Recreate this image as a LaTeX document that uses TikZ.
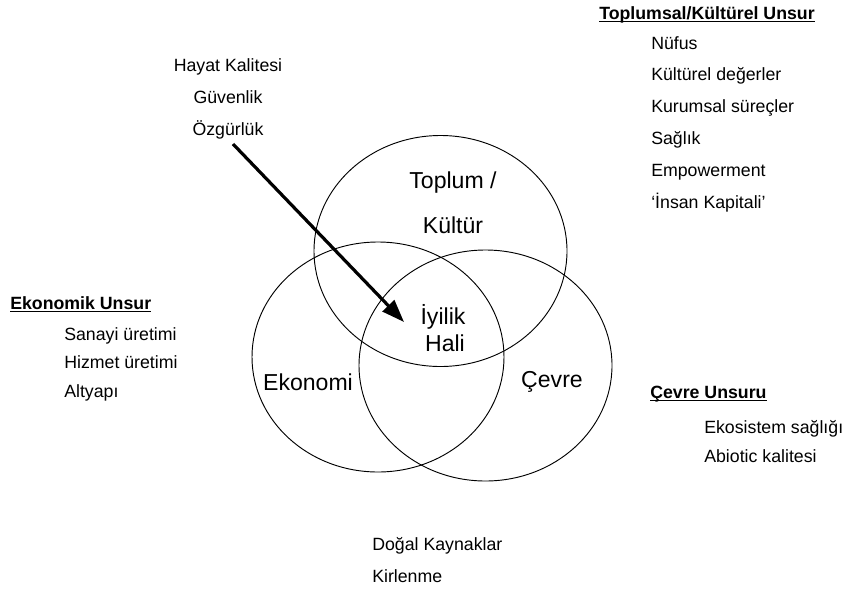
\documentclass[tikz,border=0pt]{standalone}
\usepackage{fontspec}
\setmainfont{Liberation Sans}
\usetikzlibrary{arrows.meta}
\tikzstyle{arrow} = [line width=2.4pt,-{Triangle[length=17pt,width=12pt]}]
\tikzstyle{ring} = [line width=0.7pt]
\tikzstyle{item} = [anchor=base west,inner sep=0pt,font=\fontsize{13.3}{16}\selectfont]
\tikzstyle{head} = [item,font=\fontsize{13.3}{16}\selectfont\bfseries]
\tikzstyle{big} = [inner sep=0pt,font=\fontsize{17.3}{20}\selectfont]

\begin{document}
\begin{tikzpicture}[x=0.75pt,y=-0.75pt]
\useasboundingbox (0,0) rectangle (845,589);

\draw[ring] (440.5,251) ellipse [x radius=126.5,y radius=115.5];
\draw[ring] (378,357) ellipse [x radius=126,y radius=115];
\draw[ring] (485.5,365.5) ellipse [x radius=126.5,y radius=115.5];

\node[big] (top1) at (453,183) {Toplum /};
\node[big] (top2) at (453,225) {Kültür};
\node[big] (eko) at (308,382) {Ekonomi};
\node[big] (cev) at (552,382) {Çevre};
\node[big] (iyi1) at (443,317) {İyilik};
\node[big] (iyi2) at (445,343) {Hali};

\foreach \t [count=\i] in {Hayat Kalitesi,Güvenlik,Özgürlük}{
	\node[item,anchor=base] (hk\i) at (228,71+32*\i-32) {\t};
}
\coordinate (from) at (233,144);
\coordinate (to) at (404,322);
\draw[arrow] (from) -- (to);

\node[head] (hsoc) at (599,19) {Toplumsal/Kültürel Unsur};
\foreach \t [count=\i] in {Nüfus,Kültürel değerler,Kurumsal süreçler,Sağlık,Empowerment,{‘İnsan Kapitali’}}{
	\node[item] (soc\i) at (651,49+31.8*\i-31.8) {\t};
}

\node[head] (heko) at (10,309) {Ekonomik Unsur};
\foreach \t [count=\i] in {Sanayi üretimi,Hizmet üretimi,Altyapı}{
	\node[item] (ek\i) at (64,340+28.5*\i-28.5) {\t};
}

\node[head] (hcev) at (650,398) {Çevre Unsuru};
\foreach \t [count=\i] in {Ekosistem sağlığı,Abiotic kalitesi}{
	\node[item] (ce\i) at (704,433+29*\i-29) {\t};
}

\foreach \t [count=\i] in {Doğal Kaynaklar,Kirlenme}{
	\node[item] (dk\i) at (372,550+32*\i-32) {\t};
}

\foreach \h in {hsoc,heko,hcev}{
	\draw[line width=1.1pt] ([yshift=-2pt]\h.base west) -- ([yshift=-2pt]\h.base east);
}
\end{tikzpicture}
\end{document}
